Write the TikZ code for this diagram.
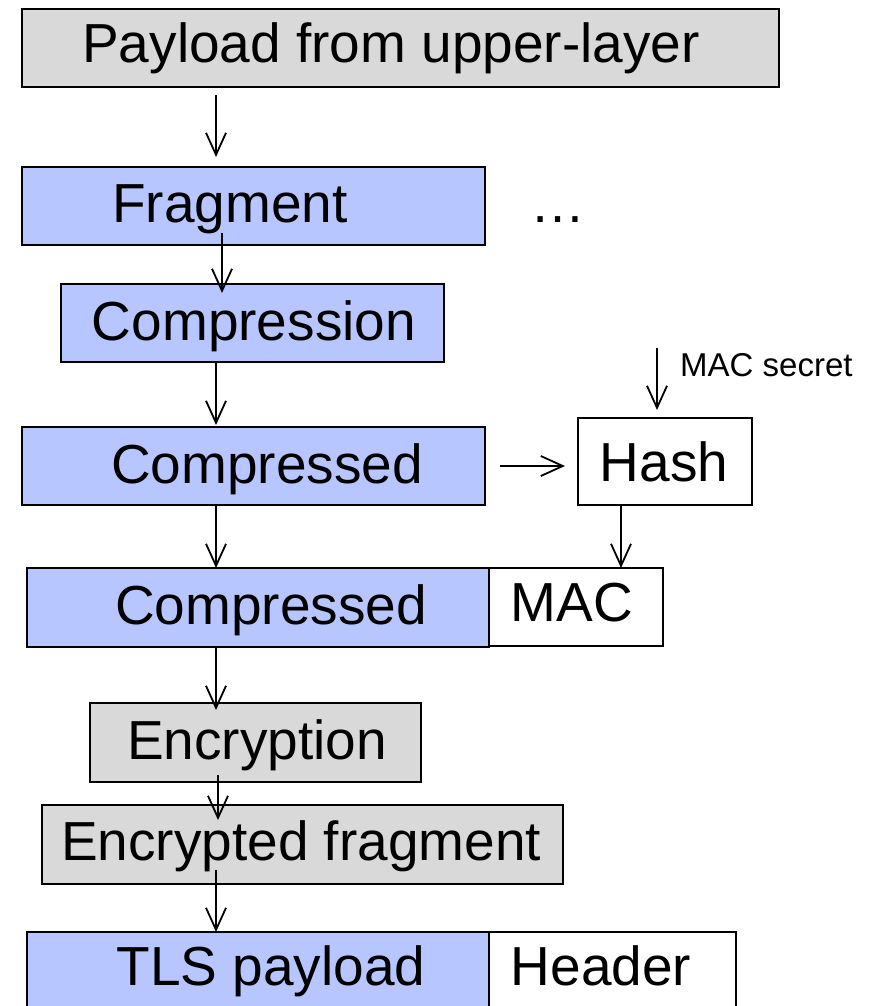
\documentclass[tikz,border=0pt]{standalone}
\usepackage{fontspec}
\setmainfont{Liberation Sans}
\usetikzlibrary{arrows.meta}
\definecolor{boxblue}{RGB}{183,198,255}
\definecolor{boxgray}{RGB}{217,217,217}

\begin{document}
\begin{tikzpicture}[x=1pt,y=-1pt,
  box/.style={draw=black, line width=1.8pt, inner sep=0pt, outer sep=0pt},
  bluebox/.style={box, fill=boxblue},
  graybox/.style={box, fill=boxgray},
  whitebox/.style={box, fill=white},
  lbl/.style={anchor=base, inner sep=0pt, font=\fontsize{55pt}{60pt}\selectfont},
  small/.style={anchor=base west, inner sep=0pt, font=\fontsize{33pt}{36pt}\selectfont},
  arr/.style={line width=1.8pt, -{Straight Barb[length=22pt,width=20pt]}}]
\useasboundingbox (0,0) rectangle (870,1006);
\clip (0,0) rectangle (870,1006);
% boxes
\node[graybox, minimum width=757pt, minimum height=78pt] (pay) at (400.5,48) {};
\node[bluebox, minimum width=463pt, minimum height=78pt] (frag) at (253.5,206) {};
\node[bluebox, minimum width=383pt, minimum height=78pt] (comp) at (252.5,323) {};
\node[bluebox, minimum width=463pt, minimum height=78pt] (cmpd) at (253.5,466) {};
\node[whitebox, minimum width=174pt, minimum height=87pt] (hash) at (665,461.5) {};
\node[bluebox, minimum width=462pt, minimum height=79pt] (cmpdmac) at (258,607.5) {};
\node[whitebox, minimum width=174pt, minimum height=78pt] (mac) at (576,607) {};
\node[graybox, minimum width=331pt, minimum height=79pt] (enc) at (255.5,742.5) {};
\node[graybox, minimum width=521pt, minimum height=79pt] (encfrag) at (302.5,844.5) {};
\node[bluebox, minimum width=462pt, minimum height=78pt] (tls) at (258,971) {};
\node[whitebox, minimum width=247pt, minimum height=78pt] (hdr) at (612.5,971) {};
% texts
\node[lbl] (paytxt) at (391,63) {Payload from upper-layer};
\node[lbl] (fragtxt) at (230,222) {Fragment};
\node[lbl] (dots) at (558,222) {…};
\node[lbl] (comptxt) at (254,340) {Compression};
\node[lbl] (cmpdtxt) at (267,483) {Compressed};
\node[lbl] (hashtxt) at (664,481) {Hash};
\node[small] (secret) at (680,376) {MAC secret};
\node[lbl] (cmpdmactxt) at (271,624) {Compressed};
\node[lbl] (mactxt) at (572,621) {MAC};
\node[lbl] (enctxt) at (257,759) {Encryption};
\node[lbl] (encfragtxt) at (301,860) {Encrypted fragment};
\node[lbl] (tlstxt) at (271,985) {TLS payload};
\node[lbl] (hdrtxt) at (601,985) {Header};
% arrows
\draw[arr] ([xshift=-184.5pt,yshift=-8pt]pay.south) -- ([xshift=-37.5pt,yshift=10pt]frag.north);
\draw[arr] ([xshift=-31.5pt,yshift=12pt]frag.south) -- ([xshift=-30.5pt,yshift=-9pt]comp.north);
\draw[arr] ([xshift=-36.5pt]comp.south) -- ([xshift=-37.5pt,yshift=2pt]cmpd.north);
\draw[arr] ([xshift=15pt]cmpd.east) -- ([xshift=-13pt,yshift=-4.5pt]hash.west);
\draw[arr] ([xshift=-8pt,yshift=70pt]hash.north) -- ([xshift=-8pt,yshift=8pt]hash.north);
\draw[arr] ([xshift=-37.5pt]cmpd.south) -- ([xshift=-42pt]cmpdmac.north);
\draw[arr] ([xshift=-44pt]hash.south) -- ([xshift=45pt]mac.north);
\draw[arr] ([xshift=-42pt]cmpdmac.south) -- ([xshift=-39.5pt,yshift=-7pt]enc.north);
\draw[arr] ([xshift=-37.5pt,yshift=7pt]enc.south) -- ([xshift=-84.5pt,yshift=-15pt]encfrag.north);
\draw[arr] ([xshift=-86.5pt,yshift=14pt]encfrag.south) -- ([xshift=-42pt]tls.north);
\end{tikzpicture}
\end{document}
